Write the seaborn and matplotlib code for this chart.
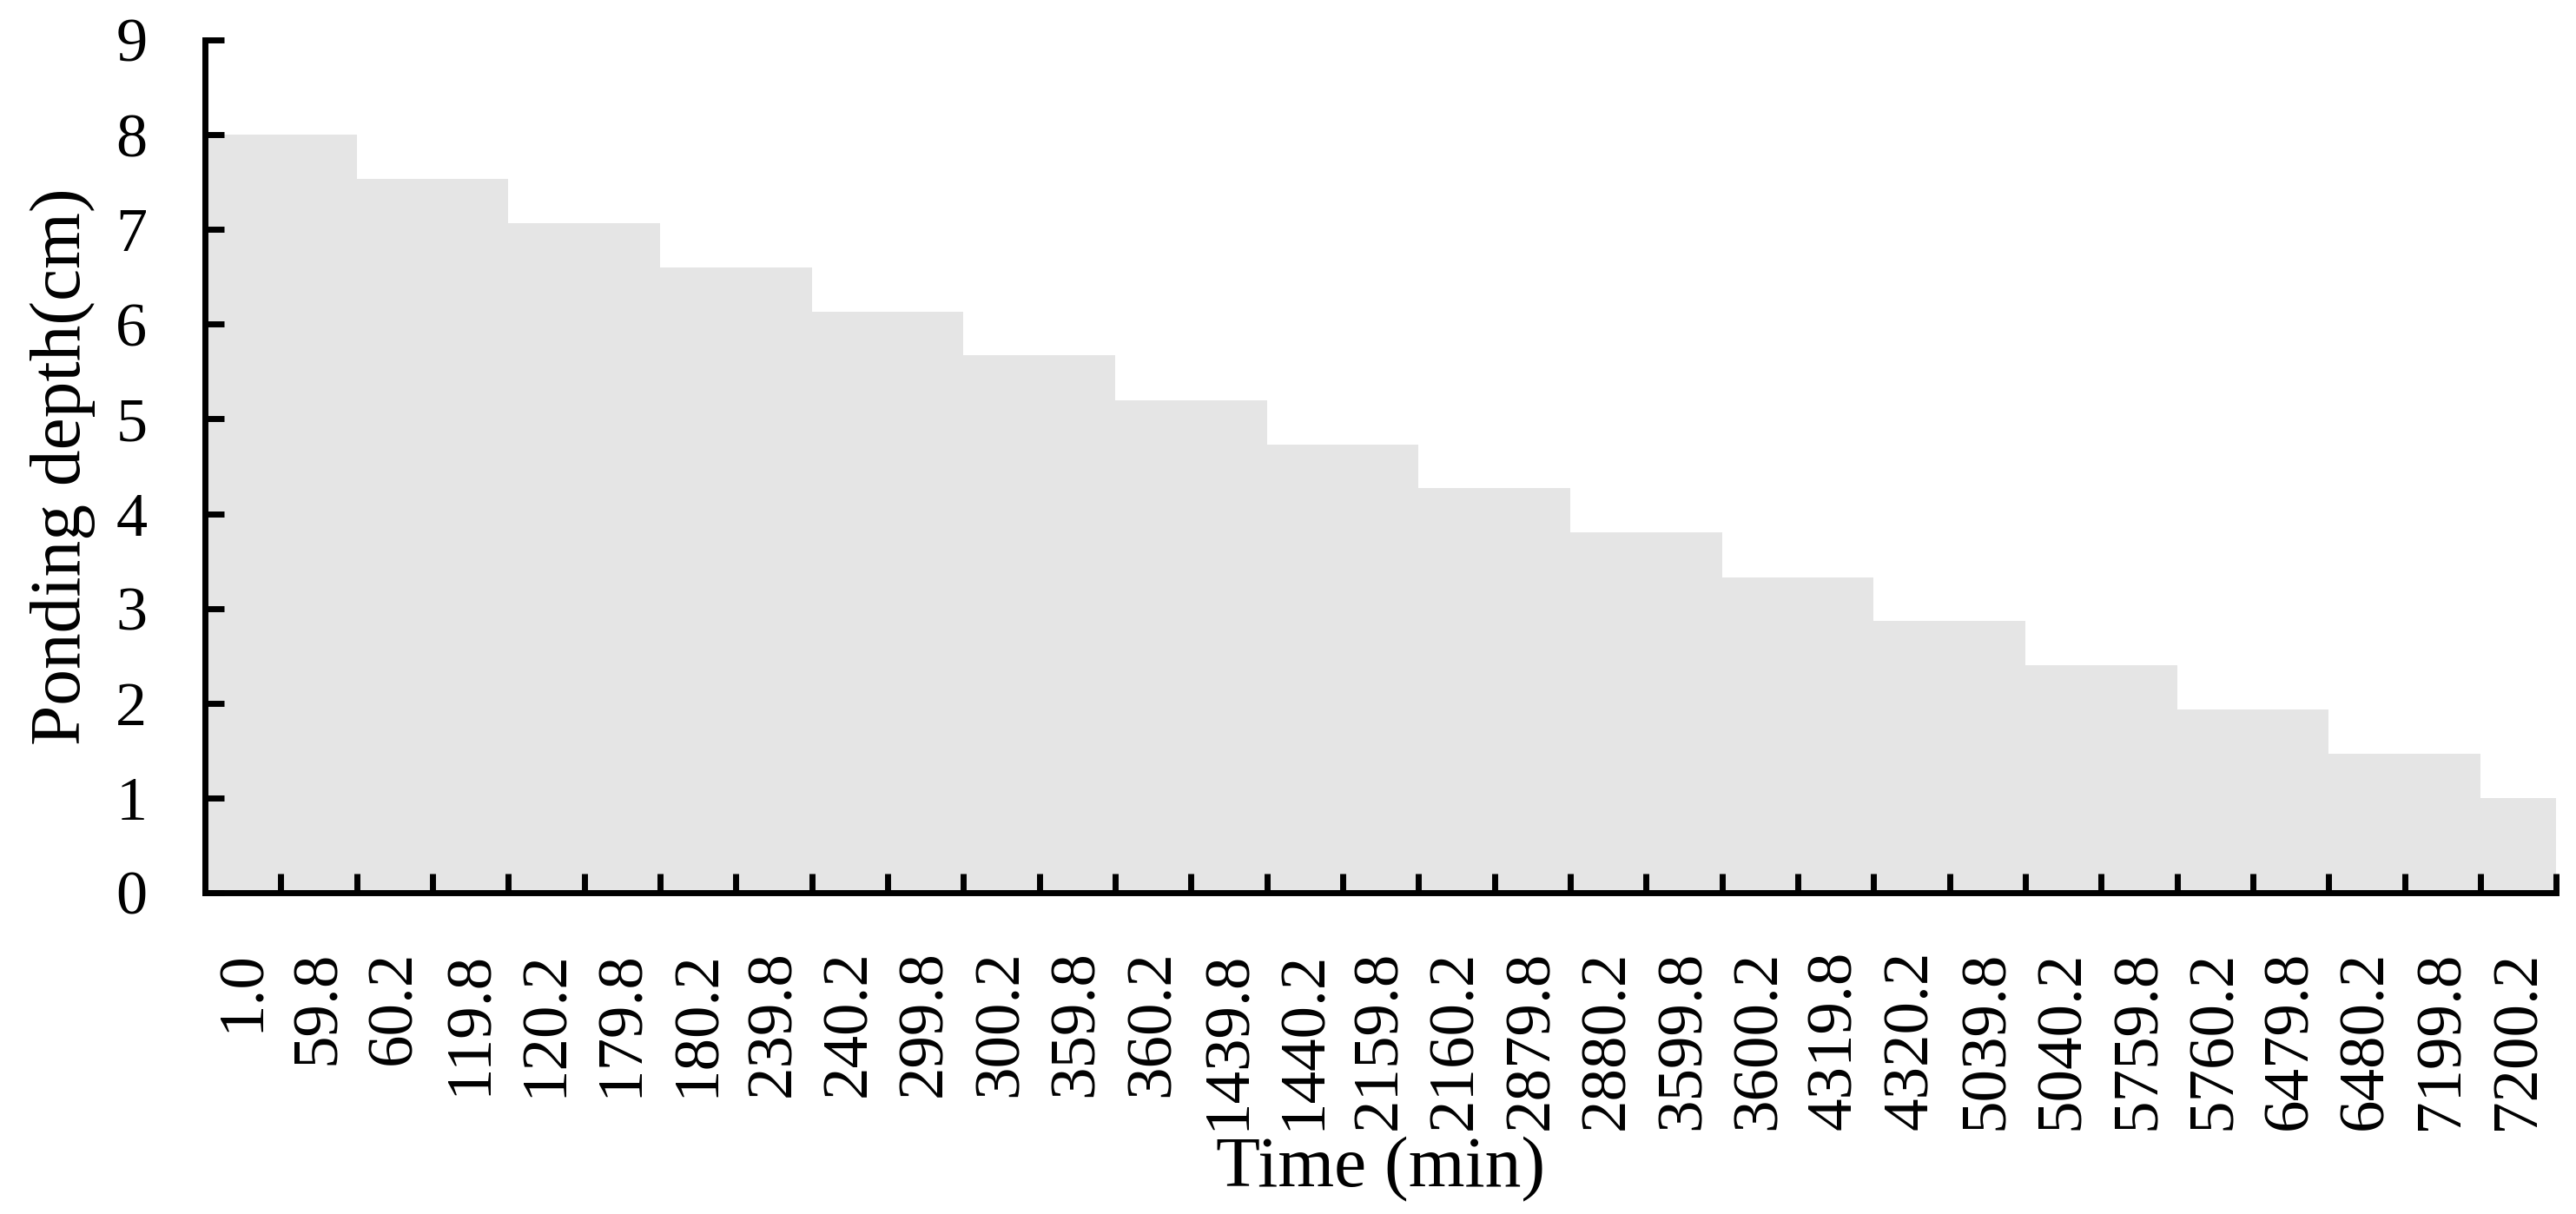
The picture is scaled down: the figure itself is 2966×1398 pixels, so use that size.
import numpy as np
import matplotlib
matplotlib.use("Agg")
import matplotlib.pyplot as plt
import seaborn as sns

# ==========================================
# DATA
# ==========================================

time_labels = [
    "1.0", "59.8", "60.2", "119.8", "120.2", "179.8", "180.2", "239.8",
    "240.2", "299.8", "300.2", "359.8", "360.2", "1439.8", "1440.2",
    "2159.8", "2160.2", "2879.8", "2880.2", "3599.8", "3600.2", "4319.8",
    "4320.2", "5039.8", "5040.2", "5759.8", "5760.2", "6479.8", "6480.2",
    "7199.8", "7200.2"
]

ponding_depth = [
    8.00, 8.00, 7.53, 7.53, 7.07, 7.07, 6.60, 6.60,
    6.13, 6.13, 5.67, 5.67, 5.20, 5.20, 4.73, 4.73,
    4.27, 4.27, 3.80, 3.80, 3.33, 3.33, 2.87, 2.87,
    2.40, 2.40, 1.93, 1.93, 1.47, 1.47, 1.00
]

y_ticks = [0, 1, 2, 3, 4, 5, 6, 7, 8, 9]

# ==========================================
# STYLE
# ==========================================

sns.set_style("ticks")
plt.rcParams["font.family"] = ["Liberation Serif", "DejaVu Serif"]
plt.rcParams["text.color"] = "black"
plt.rcParams["axes.labelcolor"] = "black"
plt.rcParams["xtick.color"] = "black"
plt.rcParams["ytick.color"] = "black"

fig = plt.figure(figsize=(29.66, 13.98), dpi=100)
ax = fig.add_axes([0.0796, 0.2647, 0.9127, 0.7024])

# ==========================================
# BARS (gap-free steps)
# ==========================================

sns.barplot(
    x=time_labels,
    y=ponding_depth,
    color="#e5e5e5",
    saturation=1,
    width=1.0,
    linewidth=0,
    ax=ax
)

ax.set_axisbelow(False)

n = len(time_labels)
ax.set_xlim(-0.5, n - 0.5)
ax.set_ylim(0, 9)

# category labels at centres, tick marks at boundaries
ax.set_xticks(range(n))
ax.set_xticklabels(time_labels, rotation=90, fontsize=54)
ax.set_xticks(np.arange(0.5, n, 1.0), minor=True)
ax.tick_params(axis="x", which="major", length=0, pad=48, direction="in")
ax.tick_params(axis="x", which="minor", length=16, width=5,
               direction="in", color="black")

ax.set_yticks(y_ticks)
ax.set_yticklabels([str(v) for v in y_ticks], fontsize=52)
ax.tick_params(axis="y", length=16, width=5, direction="in",
               pad=48, color="black")

for side in ["top", "right"]:
    ax.spines[side].set_visible(False)
for side in ["left", "bottom"]:
    ax.spines[side].set_linewidth(5)
    ax.spines[side].set_color("black")
    ax.spines[side].set_zorder(5)

ax.set_xlabel("Time (min)", fontsize=60, va="baseline")
ax.xaxis.set_label_coords(0.5, -0.345)
ax.set_ylabel("Ponding depth(cm)", fontsize=60, va="baseline")
ax.yaxis.set_label_coords(-0.0532, 0.5)

fig.savefig("out.png", dpi=100, facecolor="white")
